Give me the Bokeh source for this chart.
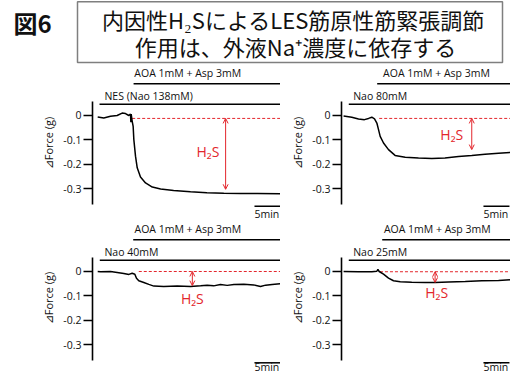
from bokeh.plotting import figure
from bokeh.layouts import column, row
from bokeh.models import Range1d, FixedTicker, Arrow, OpenHead
from bokeh.core.properties import value
from bokeh.embed import file_html
from bokeh.resources import INLINE

RED = "#e3262c"
FONT = "Open Sans"
CJK = "Noto Sans CJK JP"

TITLE_BADGE = "図6"
TITLE_LINES = ["内因性H₂SによるLES筋原性筋緊張調節", "作用は、外液Na⁺濃度に依存する"]
AOA_LABEL = "AOA 1mM + Asp 3mM"
Y_LABEL = "⊿Force (g)"
TICKS = [0, -0.1, -0.2, -0.3]
TICK_LABELS = ["0", "-0.1", "-0.2", "-0.3"]
NAO_LABELS = ["NES (Nao 138mM)", "Nao 80mM", "Nao 40mM", "Nao 25mM"]
H2S_LABEL = "H₂S"
SCALE_LABEL = "5min"
SCALE_MIN = 5
REC_END = 37

# traces: time (min) and force change (g)
t_138 = [0, 1.17, 2.46, 3.74, 4.7, 5.35, 5.98, 6.3, 6.38, 6.44, 6.62, 6.82, 6.95, 7.27, 7.6,
         8.23, 9.2, 10.5, 12.1, 14.6, 17.85, 21.0, 24.25, 27.5, 30.7, 35.15]
f_138 = [-0.006, -0.010, -0.003, 0.000, 0.010, 0.008, 0.000, 0.006, -0.028, 0.006, -0.022,
         -0.045, -0.099, -0.167, -0.215, -0.253, -0.277, -0.294, -0.302, -0.308, -0.313,
         -0.317, -0.319, -0.320, -0.320, -0.321]
t_80 = [0, 1.58, 2.87, 4.02, 4.8, 5.43, 5.95, 6.4, 6.72, 7.04, 7.68, 8.64, 9.9, 11.85, 14.4,
        16.97, 19.5, 22.1, 24.65, 27.2, 29.8, 32.35, 33.6, 35.2]
f_80 = [-0.002, -0.007, -0.014, -0.017, -0.012, -0.007, -0.014, -0.031, -0.058, -0.086,
        -0.113, -0.140, -0.164, -0.171, -0.175, -0.177, -0.175, -0.168, -0.164, -0.159,
        -0.155, -0.151, -0.144, -0.141]
t_40 = [0, 0.54, 2.46, 3.74, 5.02, 6.0, 6.63, 7.14, 7.46, 7.9, 8.87, 9.83, 10.8, 12.7, 15.3,
        17.85, 19.8, 21.05, 22.3, 23.6, 24.9, 26.2, 28.1, 30.0, 31.3, 32.3, 33.55, 35.15]
f_40 = [0.0, -0.001, 0.0, -0.004, -0.008, -0.012, -0.007, -0.011, -0.028, -0.038, -0.045,
        -0.053, -0.060, -0.062, -0.060, -0.062, -0.059, -0.056, -0.059, -0.053, -0.057,
        -0.053, -0.052, -0.055, -0.062, -0.056, -0.053, -0.050]
t_25 = [0, 2.87, 5.43, 6.4, 6.6, 6.85, 7.68, 8.64, 9.6, 10.9, 13.1, 15.7, 17.6, 20.2, 23.4,
        26.6, 29.8, 32.35, 35.2]
f_25 = [0.0, -0.001, -0.001, 0.001, 0.009, 0.0, -0.011, -0.027, -0.038, -0.042, -0.044,
        -0.045, -0.045, -0.043, -0.041, -0.038, -0.037, -0.034, -0.035]

# treatment / annotation times (min) and levels (g), per panel
nao_start = [0.35, 1.0, 0.4, 1.0]
nao_text_t = [1.3, 1.85, 1.3, 1.85]
aoa_start = [6.9, 6.46, 6.83, 7.43]
aoa_text_t = [7.05, 7.6, 7.08, 7.75]
dash_start = [6.63, 6.85, 7.9, 7.0]
baseline = [-0.012, -0.012, 0.0, -0.001]
arrow_t = [24.6, 24.65, 18.2, 17.6]
arrow_end = [-0.303, -0.140, -0.058, -0.045]
h2s_t = [21.2, 20.8, 18.2, 17.9]
h2s_f = [-0.148, -0.076, -0.112, -0.088]
scale_start = [30.15, 26.9, 30.15, 26.9]

PX_PER_MIN = 5.2


def panel(i, t, f, width, height, left, x0, ybot, ytop, bounds, sb_y, sb_text_y):
    x1 = x0 + (width - left) / PX_PER_MIN
    p = figure(width=width, height=height, x_range=Range1d(x0, x1),
               y_range=Range1d(ybot, ytop), output_backend="svg",
               toolbar_location=None, x_axis_type=None, min_border=0,
               min_border_left=left, outline_line_color=None,
               background_fill_color="white", border_fill_color="white")
    p.grid.visible = False
    ax = p.yaxis[0]
    ax.ticker = FixedTicker(ticks=TICKS)
    ax.major_label_overrides = {k: v for k, v in zip(TICKS, TICK_LABELS)}
    ax.bounds = bounds
    ax.axis_line_width = 1.6
    ax.axis_line_color = "black"
    ax.major_tick_line_width = 1.6
    ax.major_tick_line_color = "black"
    ax.major_tick_out = 9
    ax.major_tick_in = 0
    ax.minor_tick_out = 0
    ax.minor_tick_in = 0
    ax.major_label_standoff = 2
    ax.major_label_text_font = FONT
    ax.major_label_text_font_size = "10.5px"
    ax.major_label_text_color = "#111111"
    ax.axis_label = Y_LABEL
    ax.axis_label_text_font = FONT
    ax.axis_label_text_font_size = "11px"
    ax.axis_label_text_font_style = "normal"
    ax.axis_label_text_color = "#111111"
    ax.axis_label_standoff = 4

    # treatment bars
    p.segment(x0=[aoa_start[i], nao_start[i]], y0=[0.13, 0.046],
              x1=[REC_END, REC_END], y1=[0.13, 0.046],
              line_color="black", line_width=1.5)
    p.text(x=[aoa_text_t[i], nao_text_t[i]], y=[0.174, 0.078],
           text=[AOA_LABEL, NAO_LABELS[i]], text_font=value(FONT),
           text_font_size="10.5px", text_baseline="middle", text_align="left",
           text_color="#111111")
    # baseline (dashed) and trace
    p.segment(x0=[dash_start[i]], y0=[baseline[i]], x1=[REC_END], y1=[baseline[i]],
              line_color=RED, line_width=1, line_dash="3 2")
    p.line(t, f, line_color="black", line_width=1.5)
    # H2S arrow + label
    p.add_layout(Arrow(start=OpenHead(size=5, line_color=RED, line_width=1),
                       end=OpenHead(size=5, line_color=RED, line_width=1),
                       x_start=arrow_t[i], y_start=baseline[i],
                       x_end=arrow_t[i], y_end=arrow_end[i],
                       line_color=RED, line_width=1))
    p.text(x=[h2s_t[i]], y=[h2s_f[i]], text=[H2S_LABEL], text_font=value(FONT),
           text_font_size="14px", text_color=RED, text_align="center",
           text_baseline="middle")
    # scale bar
    p.segment(x0=[scale_start[i]], y0=[sb_y], x1=[scale_start[i] + SCALE_MIN], y1=[sb_y],
              line_color="black", line_width=1.5)
    p.text(x=[scale_start[i]], y=[sb_text_y], text=[SCALE_LABEL], text_font=value(FONT),
           text_font_size="10.5px", text_baseline="middle", text_align="left",
           text_color="#111111")
    return p


tl = panel(0, t_138, f_138, 280, 157, 92, -1.0, -0.4353, 0.2094,
           (-0.365, 0.058), -0.373, -0.404)
tr = panel(1, t_80, f_80, 230, 157, 61, -0.4, -0.4353, 0.2094,
           (-0.365, 0.058), -0.373, -0.404)
bl = panel(2, t_40, f_40, 280, 153, 92, -1.0, -0.423, 0.2053,
           (-0.365, 0.0575), -0.375, -0.392)
br = panel(3, t_25, f_25, 230, 153, 61, -0.4, -0.423, 0.2053,
           (-0.365, 0.0575), -0.375, -0.392)

tp = figure(width=510, height=64, x_range=Range1d(0, 510), y_range=Range1d(64, 0),
            output_backend="svg", toolbar_location=None, x_axis_type=None,
            y_axis_type=None, min_border=0, outline_line_color=None,
            background_fill_color="white", border_fill_color="white")
tp.grid.visible = False
tp.quad(left=[77], right=[502], top=[1.2], bottom=[62], fill_color=None,
        line_color="#7f7f7f", line_width=1.5)
tp.text(x=[32], y=[22], text=[TITLE_BADGE], text_font=value(CJK), text_font_size="24px",
        text_font_style="bold", text_align="center", text_baseline="middle",
        text_color="#111111")
tp.text(x=[293, 295], y=[18.5, 45.5], text=TITLE_LINES, text_font=value(CJK),
        text_font_size="22px", text_align="center", text_baseline="middle",
        text_color="#111111")

layout = column(tp, row(tl, tr), row(bl, br))
open("out.html", "w").write(file_html(layout, INLINE))
